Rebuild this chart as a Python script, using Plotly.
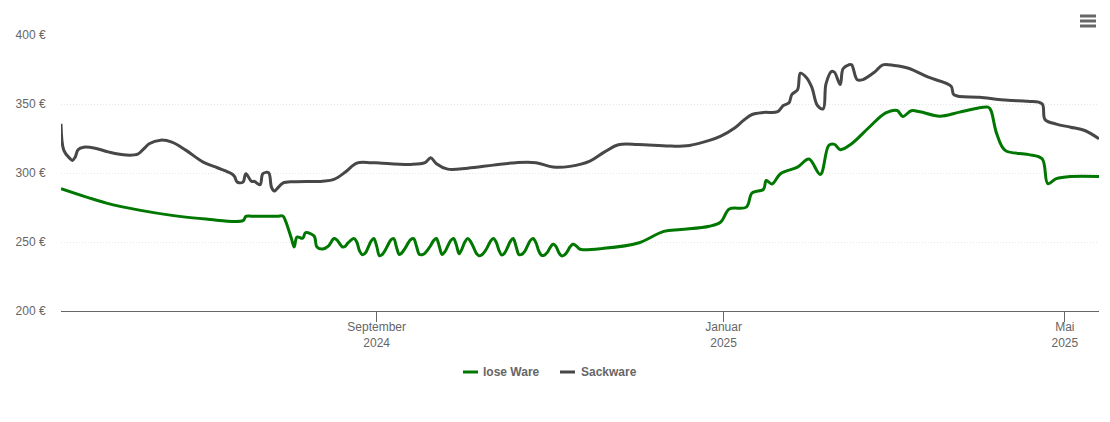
import plotly.graph_objects as go

# lose Ware
lose_dates = [
    "2024-05-13", "2024-05-29", "2024-06-10", "2024-06-21", "2024-07-03", "2024-07-16", "2024-07-17",
    "2024-07-19", "2024-07-28", "2024-07-30", "2024-07-31", "2024-08-02", "2024-08-03", "2024-08-04",
    "2024-08-06", "2024-08-07", "2024-08-10", "2024-08-11", "2024-08-13", "2024-08-15", "2024-08-17",
    "2024-08-18", "2024-08-20", "2024-08-21", "2024-08-22", "2024-08-24", "2024-08-25", "2024-08-26",
    "2024-08-27", "2024-08-28", "2024-08-29", "2024-08-30", "2024-08-31", "2024-09-01", "2024-09-02",
    "2024-09-03", "2024-09-04", "2024-09-05", "2024-09-06", "2024-09-07", "2024-09-08", "2024-09-09",
    "2024-09-10", "2024-09-11", "2024-09-12", "2024-09-13", "2024-09-14", "2024-09-15", "2024-09-16",
    "2024-09-17", "2024-09-18", "2024-09-19", "2024-09-20", "2024-09-21", "2024-09-22", "2024-09-23",
    "2024-09-24", "2024-09-25", "2024-09-26", "2024-09-27", "2024-09-28", "2024-09-29", "2024-09-30",
    "2024-10-01", "2024-10-02", "2024-10-03", "2024-10-04", "2024-10-05", "2024-10-06", "2024-10-07",
    "2024-10-08", "2024-10-09", "2024-10-10", "2024-10-11", "2024-10-12", "2024-10-13", "2024-10-14",
    "2024-10-15", "2024-10-16", "2024-10-17", "2024-10-18", "2024-10-19", "2024-10-20", "2024-10-21",
    "2024-10-22", "2024-10-23", "2024-10-24", "2024-10-25", "2024-10-26", "2024-10-27", "2024-10-28",
    "2024-10-29", "2024-10-30", "2024-10-31", "2024-11-01", "2024-11-02", "2024-11-03", "2024-11-04",
    "2024-11-05", "2024-11-06", "2024-11-07", "2024-11-08", "2024-11-09", "2024-11-10", "2024-11-11",
    "2024-11-12", "2024-11-19", "2024-12-02", "2024-12-11", "2024-12-17", "2024-12-27", "2024-12-31",
    "2025-01-03", "2025-01-09", "2025-01-11", "2025-01-15", "2025-01-16", "2025-01-18", "2025-01-21",
    "2025-01-27", "2025-01-31", "2025-02-04", "2025-02-07", "2025-02-09", "2025-02-11", "2025-02-15",
    "2025-02-21", "2025-02-27", "2025-03-03", "2025-03-05", "2025-03-08", "2025-03-11", "2025-03-18",
    "2025-03-25", "2025-04-04", "2025-04-05", "2025-04-07", "2025-04-10", "2025-04-18", "2025-04-23",
    "2025-04-25", "2025-04-28", "2025-05-03", "2025-05-13",
]
lose_prices = [
    288.6, 278.2, 272.9, 269.3, 266.6, 265.5, 268.6,
    268.7, 268.7, 268.8, 265.0, 252.7, 246.4, 253.6,
    252.7, 256.8, 254.3, 246.4, 244.9, 247.0, 252.5,
    251.5, 246.4, 247.0, 249.5, 252.5, 250.0, 243.5,
    240.8, 242.0, 246.0, 250.5, 252.5, 247.0, 240.0,
    241.0, 244.0, 248.0, 251.5, 252.5, 246.0, 240.9,
    242.5, 245.5, 249.0, 251.8, 252.5, 247.0, 241.0,
    240.8, 242.0, 244.5, 247.5, 251.0, 252.5, 247.0,
    241.0, 243.0, 247.0, 251.0, 252.5, 248.0, 241.5,
    245.0, 250.0, 252.5, 250.5, 246.5, 242.0, 240.0,
    240.8, 243.0, 246.5, 250.5, 252.5, 250.0, 244.0,
    240.5, 242.0, 246.0, 250.5, 252.5, 247.0, 241.0,
    241.0, 243.0, 247.0, 251.0, 252.5, 249.5, 243.5,
    240.3, 240.5, 242.5, 246.0, 248.3, 247.0, 242.5,
    239.9, 240.5, 243.0, 246.5, 248.3, 247.5, 245.5,
    244.5, 245.2, 249.3, 257.7, 259.0, 261.4, 264.5,
    273.9, 275.3, 285.5, 288.1, 294.6, 292.0, 299.5,
    304.3, 310.1, 299.0, 320.0, 320.7, 316.9, 321.2,
    332.8, 343.6, 345.3, 341.0, 345.1, 344.4, 341.2,
    344.1, 347.7, 345.3, 328.7, 316.4, 313.5, 310.3,
    292.3, 295.9, 297.5, 297.5,
]

# Sackware
sack_dates = [
    "2024-05-13", "2024-05-14", "2024-05-16", "2024-05-17", "2024-05-18", "2024-05-19", "2024-05-21",
    "2024-05-25", "2024-05-30", "2024-06-05", "2024-06-09", "2024-06-11", "2024-06-13", "2024-06-17",
    "2024-06-21", "2024-06-26", "2024-07-02", "2024-07-07", "2024-07-12", "2024-07-13", "2024-07-14",
    "2024-07-16", "2024-07-17", "2024-07-19", "2024-07-20", "2024-07-22", "2024-07-23", "2024-07-25",
    "2024-07-26", "2024-07-27", "2024-07-28", "2024-07-30", "2024-08-03", "2024-08-13", "2024-08-17",
    "2024-08-21", "2024-08-25", "2024-08-30", "2024-09-02", "2024-09-13", "2024-09-18", "2024-09-20",
    "2024-09-22", "2024-09-26", "2024-10-03", "2024-10-12", "2024-10-20", "2024-10-27", "2024-11-02",
    "2024-11-08", "2024-11-15", "2024-11-20", "2024-11-25", "2024-12-02", "2024-12-13", "2024-12-20",
    "2024-12-27", "2024-12-31", "2025-01-05", "2025-01-08", "2025-01-11", "2025-01-15", "2025-01-20",
    "2025-01-22", "2025-01-24", "2025-01-25", "2025-01-27", "2025-01-28", "2025-01-30", "2025-02-01",
    "2025-02-03", "2025-02-05", "2025-02-06", "2025-02-08", "2025-02-09", "2025-02-11", "2025-02-12",
    "2025-02-14", "2025-02-15", "2025-02-17", "2025-02-19", "2025-02-23", "2025-02-26", "2025-03-02",
    "2025-03-07", "2025-03-14", "2025-03-22", "2025-03-23", "2025-04-01", "2025-04-11", "2025-04-18",
    "2025-04-23", "2025-04-24", "2025-04-28", "2025-05-03", "2025-05-08", "2025-05-13",
]
sack_prices = [
    335.7, 316.4, 310.8, 309.1, 311.5, 316.9, 318.7,
    318.0, 315.1, 313.0, 313.7, 317.3, 321.2, 323.8,
    322.4, 316.4, 307.9, 303.8, 299.5, 297.5, 293.4,
    293.4, 299.5, 293.9, 293.9, 291.5, 299.5, 300.2,
    289.8, 286.9, 288.6, 292.7, 293.7, 294.1, 295.4,
    300.7, 307.2, 307.5, 307.2, 306.2, 307.5, 311.1,
    306.7, 302.8, 303.5, 305.7, 307.5, 307.5, 304.3,
    304.8, 308.6, 315.1, 320.5, 320.7, 319.5, 320.0,
    323.6, 326.7, 332.8, 338.1, 342.4, 343.9, 344.4,
    348.9, 350.9, 356.9, 360.3, 372.3, 369.4, 362.2,
    348.9, 346.5, 364.6, 373.7, 373.0, 364.1, 375.5,
    378.4, 378.4, 367.5, 367.7, 373.0, 378.4, 377.9,
    375.9, 369.4, 362.9, 356.7, 354.9, 352.7, 352.0,
    350.1, 338.8, 335.4, 333.2, 330.8, 324.8,
]

y_ticks = [200, 250, 300, 350, 400]
y_labels = ["200 €", "250 €", "300 €", "350 €", "400 €"]
x_ticks = ["2024-09-01", "2025-01-01", "2025-05-01"]
x_labels = ["September<br>2024", "Januar<br>2025", "Mai<br>2025"]

GREEN = "#007700"
DARK = "#474747"
TEXT = "#666666"
FONT = "Liberation Sans, Arial, sans-serif"

fig = go.Figure()
fig.add_trace(go.Scatter(x=lose_dates, y=lose_prices, name="lose Ware", mode="lines",
                         line=dict(color=GREEN, width=3, shape="spline", smoothing=1.0)))
fig.add_trace(go.Scatter(x=sack_dates, y=sack_prices, name="Sackware", mode="lines",
                         line=dict(color=DARK, width=3, shape="spline", smoothing=1.0)))

fig.update_layout(
    width=1110,
    height=422,
    margin=dict(l=61, r=11, t=35, b=111),
    plot_bgcolor="white",
    paper_bgcolor="white",
    showlegend=False,
    font=dict(family=FONT, size=12, color=TEXT),
)
fig.update_xaxes(
    range=["2024-05-13", "2025-05-13"],
    tickmode="array",
    tickvals=x_ticks,
    ticktext=x_labels,
    ticks="outside",
    ticklen=10,
    tickcolor=TEXT,
    tickwidth=1,
    ticklabelstandoff=-5,
    showline=True,
    linecolor=TEXT,
    linewidth=1,
    showgrid=False,
    zeroline=False,
)
fig.update_yaxes(
    range=[200, 400],
    tickmode="array",
    tickvals=y_ticks,
    ticktext=y_labels,
    ticks="outside",
    ticklen=12,
    tickcolor="rgba(0,0,0,0)",
    showline=False,
    showgrid=True,
    gridcolor="#e6e6e6",
    griddash="1px,2px",
    gridwidth=1,
    zeroline=False,
)

##legend drawn by hand, plotly will not make the line samples this short
LEGEND_Y = (311 - 372) / 276
for x0, x1, text_x, color, label in [(463, 478, 483, GREEN, "lose Ware"), (560, 575, 581, DARK, "Sackware")]:
    fig.add_shape(type="line", xref="paper", yref="paper",
                  x0=(x0 - 61) / 1038, x1=(x1 - 61) / 1038,
                  y0=LEGEND_Y, y1=LEGEND_Y,
                  line=dict(color=color, width=3))
    fig.add_annotation(xref="paper", yref="paper", showarrow=False, xanchor="left", yanchor="middle",
                       x=(text_x - 61) / 1038, y=LEGEND_Y, xshift=-2, text="<b>" + label + "</b>",
                       font=dict(family=FONT, size=12, color=TEXT))

##menu icon
for y in [16, 21, 26]:
    fig.add_shape(type="line", xref="paper", yref="paper",
                  x0=(1080 - 61) / 1038, x1=(1096 - 61) / 1038,
                  y0=(311 - y) / 276, y1=(311 - y) / 276,
                  line=dict(color=TEXT, width=3))

fig.write_html("out.html", config=dict(displayModeBar=False), post_script="document.body.style.margin='0';")
